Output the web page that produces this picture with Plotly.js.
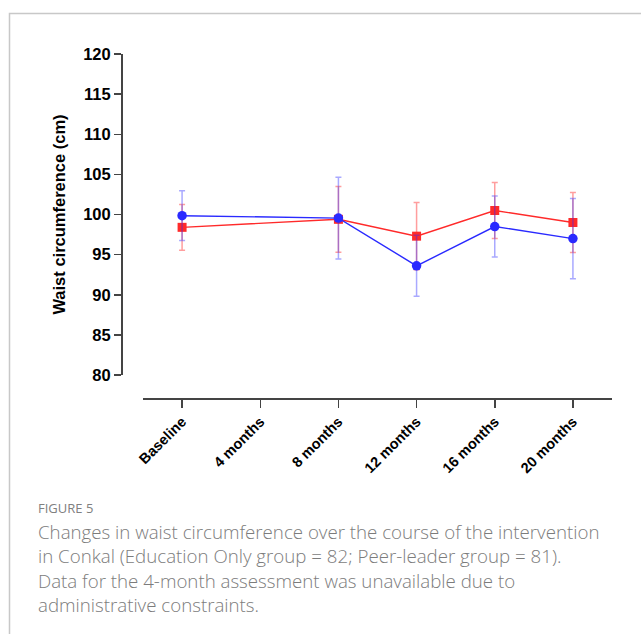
<!DOCTYPE html>
<html>
<head>
<meta charset="utf-8">
<script src="https://cdn.plot.ly/plotly-3.0.1.min.js"></script>
<style>html,body{margin:0;padding:0;background:#fff;}#chart{width:641px;height:634px;}</style>
</head>
<body>
<div id="chart"></div>
<script>
var categories = ["Baseline", "4 months", "8 months", "12 months", "16 months", "20 months"];
var peerLeaderMean = [99.85, null, 99.55, 93.6, 98.5, 97.0];
var peerLeaderErr  = [3.1, null, 5.1, 3.8, 3.8, 5.0];
var educationMean  = [98.4, null, 99.4, 97.3, 100.5, 99.0];
var educationErr   = [2.85, null, 4.1, 4.2, 3.5, 3.75];
var yTicks = [80, 85, 90, 95, 100, 105, 110, 115, 120];
var captionHead = "FIGURE 5";
var captionLines = [
  "Changes in waist circumference over the course of the intervention",
  "in Conkal (Education Only group = 82; Peer-leader group = 81).",
  "Data for the 4-month assessment was unavailable due to",
  "administrative constraints."
];

var traces = [
  {
    x: categories, y: educationMean, type: "scatter", mode: "lines+markers",
    name: "Education Only", connectgaps: true,
    line: {color: "#ff2a2a", width: 1.4},
    marker: {symbol: "square", size: 9, color: "#ff2a2a"},
    error_y: {type: "data", array: educationErr, visible: true, color: "rgba(255,40,40,0.45)", thickness: 1.5, width: 3}
  },
  {
    x: categories, y: peerLeaderMean, type: "scatter", mode: "lines+markers",
    name: "Peer-leader", connectgaps: true,
    line: {color: "#2a2aff", width: 1.4},
    marker: {symbol: "circle", size: 9.5, color: "#2a2aff"},
    error_y: {type: "data", array: peerLeaderErr, visible: true, color: "rgba(40,40,255,0.4)", thickness: 1.5, width: 3}
  }
];

var W = 491, H = 344;
var annotations = [
  {
    text: captionHead, xref: "paper", yref: "paper",
    x: (36 - 121) / W, y: (398 - 508) / H, xanchor: "left", yanchor: "middle",
    showarrow: false, font: {family: "Open Sans", size: 13, color: "#808080"}
  },
  {
    text: captionLines.join("<br>"), xref: "paper", yref: "paper", align: "left",
    x: (36 - 121) / W, y: (398 - 568) / H, xanchor: "left", yanchor: "middle",
    showarrow: false, font: {family: "Open Sans", size: 18.7, color: "#7c7c7c", weight: 300}
  }
];

var layout = {
  width: 641, height: 634,
  margin: {l: 121, r: 29, t: 54, b: 236, pad: 0},
  paper_bgcolor: "#fff", plot_bgcolor: "#fff",
  showlegend: false,
  xaxis: {
    type: "category", categoryorder: "array", categoryarray: categories,
    domain: [(143 - 121) / W, 1], range: [-0.5, 5.5],
    anchor: "free", position: 0,
    showline: true, linecolor: "#444", linewidth: 1.5,
    ticks: "outside", ticklen: 8, tickwidth: 1.5, tickcolor: "#444",
    tickangle: -45, showgrid: false, zeroline: false,
    tickfont: {family: "Liberation Sans", size: 14.5, color: "#000", weight: "bold"}
  },
  yaxis: {
    domain: [(398 - 375) / H, 1], range: [80, 120],
    anchor: "free", position: 0,
    tickmode: "array", tickvals: yTicks, ticktext: yTicks.map(String),
    showline: true, linecolor: "#444", linewidth: 1.5,
    ticks: "outside", ticklen: 7, tickwidth: 1.5, tickcolor: "#444",
    showgrid: false, zeroline: false,
    tickfont: {family: "Liberation Sans", size: 16.5, color: "#000", weight: "bold"},
    title: {text: "Waist circumference (cm)", standoff: 12,
            font: {family: "Liberation Sans", size: 16.5, color: "#000", weight: "bold"}}
  },
  shapes: [{
    type: "rect", xref: "paper", yref: "paper",
    x0: (9.5 - 121) / W, x1: (660 - 121) / W,
    y0: (398 - 660) / H, y1: (398 - 13.5) / H,
    line: {color: "#c8c8c8", width: 1.5}, fillcolor: "rgba(0,0,0,0)", layer: "below"
  }],
  annotations: annotations
};

Plotly.newPlot("chart", traces, layout, {staticPlot: true, displayModeBar: false});
</script>
</body>
</html>
